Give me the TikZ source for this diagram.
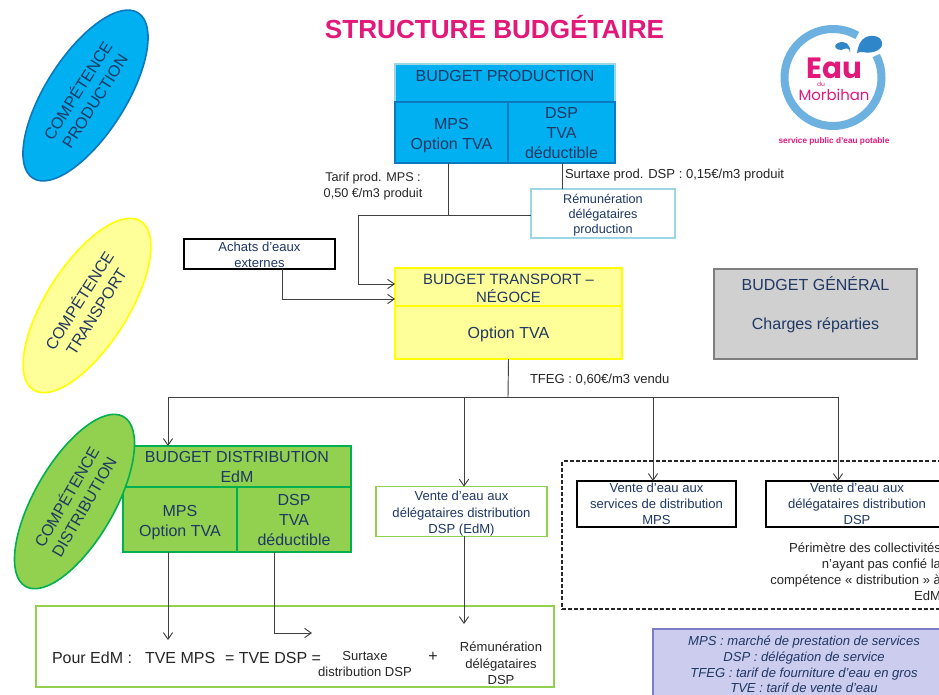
\documentclass[tikz,border=0pt]{standalone}
\usepackage{fontspec}
\setmainfont{Liberation Sans}
\newfontfamily\logofont{Poppins}
\usetikzlibrary{shapes.geometric,arrows.meta}
\definecolor{ink}{HTML}{1F3864}
\definecolor{txt}{HTML}{262626}
\definecolor{pinkt}{HTML}{E2187B}
\definecolor{cyanf}{HTML}{00B0F0}
\definecolor{cyand}{HTML}{0C78BE}
\definecolor{cyanl}{HTML}{9CD5E4}
\definecolor{yelf}{HTML}{FFFF99}
\definecolor{yeld}{HTML}{FFFF00}
\definecolor{grnf}{HTML}{92D050}
\definecolor{grnd}{HTML}{00B050}
\definecolor{grnl}{HTML}{92D050}
\definecolor{grayf}{HTML}{D0D0D0}
\definecolor{grayd}{HTML}{7F7F7F}
\definecolor{legf}{HTML}{CCCCEE}
\definecolor{legd}{HTML}{7C7CC8}
\definecolor{ring}{HTML}{6CB1E0}
\definecolor{drop}{HTML}{2F86C8}
\definecolor{conn}{HTML}{404040}
\newcommand{\bx}[7]{%
  \pgfmathsetmacro\bxw{(#5-#3)*0.75}%
  \pgfmathsetmacro\bxh{(#6-#4)*0.75}%
  \node[#2,minimum width=\bxw pt,minimum height=\bxh pt] (#1) at ({(#3+#5)/2},{(#4+#6)/2}) {#7};}
\newcommand{\tall}[1]{\rule{0pt}{#1pt}}
\tikzset{
  x=0.75pt,y=-0.75pt,
  base/.style={inner sep=0pt,outer sep=0pt,align=center,text=ink},
  big/.style={font=\fontsize{12}{15}\selectfont},
  small/.style={font=\fontsize{9.8}{12}\selectfont},
  tight/.style={font=\fontsize{9.5}{11.3}\selectfont},
  cyanhead/.style={base,big,draw=cyanl,line width=1.2pt,fill=cyanf},
  cyancell/.style={base,big,draw=cyand,line width=1.2pt,fill=cyanf},
  yelbox/.style={base,big,draw=yeld,line width=1.3pt,fill=yelf},
  grnbox/.style={base,big,draw=grnd,line width=1.5pt,fill=grnf},
  graybox/.style={base,big,draw=grayd,line width=1.3pt,fill=grayf},
  blackbox/.style={base,small,draw=black,line width=1.3pt,fill=white},
  tealbox/.style={base,tight,draw=cyanl,line width=1.2pt,fill=white},
  limebox/.style={base,small,font=\fontsize{9.8}{12.3}\selectfont,draw=grnl,line width=1.3pt,fill=white},
  freelabel/.style={inner sep=0pt,outer sep=0pt,align=center,text=txt,small},
  conline/.style={draw=conn,line width=0.7pt},
  conarrow/.style={conline,-{Straight Barb[length=5pt,width=7pt]}},
  comp/.style={ellipse,rotate=#1,inner sep=0pt,outer sep=0pt,align=center,text=ink,font=\fontsize{12}{15}\selectfont,line width=1.2pt,minimum width=147pt,minimum height=60pt},
}
\begin{document}
\begin{tikzpicture}
\path[use as bounding box,clip] (0,0) rectangle (939,694);
\fill[white] (0,0) rectangle (939,694);
% title
\node[inner sep=0pt,text=pinkt,font=\fontsize{19.6}{22}\selectfont\bfseries] (title) at (494.5,27) {STRUCTURE BUDGÉTAIRE};
% production
\bx{prodhead}{cyanhead}{395}{64}{615}{102}{\raisebox{10pt}{BUDGET PRODUCTION}}
\bx{prodmps}{cyancell}{395}{102}{508}{163}{\tall{13.1}MPS\\Option TVA}
\bx{proddsp}{cyancell}{508}{102}{615}{163}{DSP\\TVA\\déductible}
\bx{remprod}{tealbox}{531}{189}{675}{238}{\tall{10}Rémunération\\délégataires\\production}
\bx{achats}{blackbox}{184}{239}{335}{269}{\tall{8}Achats d’eaux\\externes}
% transport
\bx{transhead}{yelbox,font=\fontsize{11.2}{13.5}\selectfont}{395}{268}{622}{306}{\tall{10.5}BUDGET TRANSPORT –\\NÉGOCE}
\bx{transopt}{yelbox}{395}{306}{622}{359}{\tall{11.6}Option TVA}
\bx{general}{graybox}{714}{269}{917}{359}{BUDGET GÉNÉRAL\\[14pt]Charges réparties\rule[-16.5pt]{0pt}{0pt}}
% distribution
\bx{disthead}{grnbox}{123}{446}{351}{487}{BUDGET DISTRIBUTION\\EdM}
\bx{distmps}{grnbox}{123}{487}{237}{552}{\tall{13.1}MPS\\Option TVA}
\bx{distdsp}{grnbox}{237}{487}{351}{552}{DSP\\TVA\\déductible}
\bx{venteedm}{limebox}{376}{487}{547}{536}{\tall{10.7}Vente d’eau aux\\délégataires distribution\\DSP (EdM)}
% dashed perimeter
\bx{perim}{base,draw=black!85,line width=1.2pt,dash pattern=on 3pt off 1.6pt}{562}{461}{960}{609}{}
\bx{ventemps}{blackbox}{577}{481}{736}{527}{Vente d’eau aux\\services de distribution\\MPS}
\bx{ventedsp}{blackbox}{766}{481}{960}{527}{}
\node[base,small] (ventedsptxt) at (857,504) {Vente d’eau aux\\délégataires distribution\\DSP};
\node[base,small,text=txt,align=right,anchor=north east] (perimtxt) at (941,543) {Périmètre des collectivités\\n’ayant pas confié la\\compétence « distribution » à\\EdM};
% result
\bx{result}{limebox}{36}{606}{554}{687}{}
\node[freelabel,anchor=west,font=\fontsize{12}{15}\selectfont] (pour) at (52,658) {Pour EdM :};
\node[freelabel,anchor=west,font=\fontsize{12}{15}\selectfont] (tve) at (145,658) {TVE MPS};
\node[freelabel,anchor=west,font=\fontsize{12}{15}\selectfont] (tved) at (225,658) {= TVE DSP =};
\node[freelabel] (surtaxe) at (365,664) {Surtaxe\\distribution DSP};
\node[freelabel,font=\fontsize{12}{15}\selectfont] (plus) at (433,657) {+};
\node[freelabel,font=\fontsize{9.8}{12.3}\selectfont] (remdsp) at (501,663.5) {Rémunération\\délégataires\\DSP};
% legend
\bx{legend}{base,draw=legd,line width=1.2pt,fill=legf}{653}{629}{960}{710}{}
\node[base,font=\fontsize{9.8}{11.8}\selectfont\itshape,anchor=north] (legtxt) at (804,636) {MPS : marché de prestation de services\\DSP : délégation de service\\TFEG : tarif de fourniture d’eau en gros\\TVE : tarif de vente d’eau};
% free labels
\node[freelabel,font=\fontsize{9.5}{12}\selectfont] (tarif) at (373,186) {Tarif prod. MPS :\\0,50 €/m3 produit};
\node[freelabel,anchor=west] (surt) at (565,175) {Surtaxe prod. DSP : 0,15€/m3 produit};
\node[freelabel,anchor=west] (tfeg) at (530,380) {TFEG : 0,60€/m3 vendu};
% connectors
\coordinate (jprod) at (448,215);
\coordinate (jleft) at (358,215);
\coordinate (jtfeg) at (508,397);
\draw[conline] (448,0 |- prodmps.south) -- (jprod);
\draw[conline] (562,0 |- proddsp.south) -- (562,0 |- remprod.north);
\draw[conarrow] (remprod.west |- jprod) -- (jleft) |- (transhead.west |- 0,284);
\draw[conarrow] (282,0 |- achats.south) |- (transhead.west |- 0,299);
\draw[conline] (transopt.south) -- (jtfeg);
\draw[conline] (168,397) -- (838,397);
\draw[conarrow] (168,397) -- (168,0 |- disthead.north);
\draw[conarrow] (464,397) -- (464,0 |- venteedm.north);
\draw[conarrow] (653,397) -- (653,0 |- ventemps.north);
\draw[conarrow] (838,397) -- (838,0 |- ventedsp.north);
\coordinate (edmmps) at (168,640);
\coordinate (edmdsp) at (312,633);
\coordinate (edmrem) at (464,624);
\draw[conarrow] (168,0 |- distmps.south) -- (edmmps);
\draw[conarrow] (274,0 |- distdsp.south) |- (edmdsp);
\draw[conarrow] (464,0 |- venteedm.south) -- (edmrem);
% ellipses
\node[comp=57.5,draw=cyand,fill=cyanf] (compprod) at (85.5,95.5) {COMPÉTENCE\\PRODUCTION};
\node[comp=57.5,draw=yeld,fill=yelf,minimum width=150pt,minimum height=61.5pt] (comptrans) at (87,305.5) {COMPÉTENCE\\TRANSPORT};
\node[comp=60,draw=grnd,fill=grnf] (compdist) at (74.5,501.5) {COMPÉTENCE\\DISTRIBUTION};
% logo
\draw[ring,line width=6pt] (833,77.5) ++(-27:48.5) arc (-27:300:48.5);
\fill[drop] (857,53) .. controls (858,46) and (860,40) .. (866,37) .. controls (874,34) and (883,37) .. (882,45) .. controls (881,51) and (870,54) .. (863,52) .. controls (861,52) and (859,52) .. (857,53) -- cycle;
\fill[drop] (850,53) .. controls (850,47) and (846,48) .. (841,50) .. controls (835,50) and (833,45) .. (838,43) .. controls (845,40) and (851,44) .. (850,53) -- cycle;
\node[inner sep=0pt,text=pinkt,font=\logofont\fontsize{22}{22}\selectfont\bfseries] (logoeau) at (834,68) {Eau};
\node[inner sep=0pt,text=pinkt,font=\logofont\fontsize{4.5}{5}\selectfont] (logodu) at (821,84) {du};
\node[inner sep=0pt,text=pinkt,font=\logofont\fontsize{11.2}{12}\selectfont] (logomor) at (834,95) {Morbihan};
\node[inner sep=0pt,text=pinkt,font=\fontsize{6.2}{7}\selectfont\bfseries] (logoserv) at (834,141) {service public d’eau potable};
\end{tikzpicture}
\end{document}
